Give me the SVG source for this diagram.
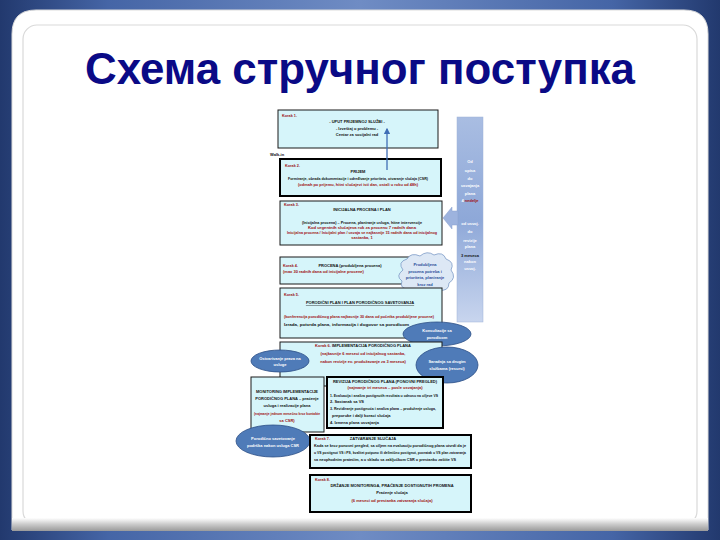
<svg xmlns="http://www.w3.org/2000/svg" width="720" height="540" viewBox="0 0 720 540">
<defs>
<linearGradient id="bg" x1="0" y1="0" x2="1" y2="0">
<stop offset="0" stop-color="#22396e"/><stop offset="0.15" stop-color="#4565a6"/><stop offset="0.5" stop-color="#6f8cc4"/><stop offset="0.85" stop-color="#4565a6"/><stop offset="1" stop-color="#22396e"/>
</linearGradient>
<linearGradient id="band" x1="0" y1="0" x2="0" y2="1">
<stop offset="0" stop-color="#ffffff"/><stop offset="0.5" stop-color="#c9c9c9"/><stop offset="1" stop-color="#9a9a9a"/>
</linearGradient>
<linearGradient id="bar" x1="0" y1="0" x2="0" y2="1">
<stop offset="0" stop-color="#a9bde2"/><stop offset="0.5" stop-color="#8ea8d8"/><stop offset="1" stop-color="#c8d5ee"/>
</linearGradient>
<marker id="ah" viewBox="0 0 10 10" refX="8" refY="5" markerWidth="5" markerHeight="5" orient="auto">
<path d="M0,0 L10,5 L0,10 z" fill="#3f6db5"/>
</marker>
<style>
.t{font-family:"Liberation Sans",Arial,sans-serif;font-weight:bold;font-size:4px;fill:#111}
.c{text-anchor:middle}
.r{fill:#a01010}
.w{fill:#ffffff}
.b{fill:#2a4f9a}
.k{fill:#9b1414;font-size:3.8px}
.box{fill:#d6f5fa;stroke:#1a1a1a;stroke-width:1}
.thick{fill:#d6f5fa;stroke:#000;stroke-width:2}
.ell{fill:#4f7bb8;stroke:#2c4f86;stroke-width:0.8}
</style>
</defs>
<rect x="0" y="0" width="720" height="540" fill="url(#bg)"/>
<path d="M12,34 Q12,10 36,10 L684,10 Q708,10 708,34 L708,530 L12,530 Z" fill="#ffffff" stroke="#dcdcdc" stroke-width="1"/>
<rect x="23" y="25" width="674" height="500" rx="14" fill="#ffffff" stroke="#d9d9d9" stroke-width="1.2"/>
<rect x="12" y="518" width="696" height="13" fill="url(#band)"/>
<text x="360" y="84" text-anchor="middle" font-family="'Liberation Sans',Arial,sans-serif" font-weight="bold" font-size="44" fill="#0a0a86" textLength="550" lengthAdjust="spacingAndGlyphs">Схема стручног поступка</text>

<g id="bar">
<rect x="457" y="117" width="26" height="205" fill="url(#bar)" stroke="#9fb3d8" stroke-width="0.5"/>
<polygon points="443,218 452,207 452,211 458,211 458,225 452,225 452,229" fill="#9db3de" stroke="#8ba2cf" stroke-width="0.5"/>
<text class="t c w" x="470" y="163" font-size="3.6">Od</text>
<text class="t c w" x="470" y="172" font-size="3.6">upisa</text>
<text class="t c w" x="470" y="180" font-size="3.6">do</text>
<text class="t c w" x="470" y="187" font-size="3.6">usvajanja</text>
<text class="t c w" x="470" y="195" font-size="3.6">plana</text>
<text class="t c" x="470" y="202" font-size="3.6"><tspan class="w">4 </tspan><tspan fill="#a01010">nedelje</tspan></text>
<text class="t c w" x="470" y="225" font-size="3.6">od usvoj.</text>
<text class="t c w" x="470" y="233" font-size="3.6">do</text>
<text class="t c w" x="470" y="242" font-size="3.6">revizije</text>
<text class="t c w" x="470" y="248" font-size="3.6">plana</text>
<text class="t c" x="470" y="257" font-size="3.6" fill="#a01010">3 meseca</text>
<text class="t c w" x="470" y="263" font-size="3.6">nakon</text>
<text class="t c w" x="470" y="270" font-size="3.6">usvoj.</text>
</g>

<g id="box1">
<rect class="box" x="278" y="110" width="160" height="38" stroke="#555"/>
<text class="t k" x="282" y="117">Korak 1.</text>
<text class="t c" x="357" y="123">- UPUT PRIJEMNOJ SLUŽBI -</text>
<text class="t c" x="357" y="130">- Izveštaj o problemu -</text>
<text class="t c" x="357" y="136">Centar za socijalni rad</text>
</g>
<text class="t" x="270" y="156" fill="#9a9a9a" font-weight="normal">Walk-in</text>

<g id="box2">
<rect class="thick" x="280" y="159" width="161" height="37"/>
<text class="t k" x="285" y="167">Korak 2.</text>
<text class="t c" x="358" y="173">PRIJEM</text>
<text class="t c" x="358" y="180" textLength="140" lengthAdjust="spacingAndGlyphs">Formiranje, obrada dokumentacije i određivanje prioriteta, otvaranje slučaja (CSR)</text>
<text class="t c r" x="358" y="186" textLength="120" lengthAdjust="spacingAndGlyphs">(odmah po prijemu, hitni slučajevi isti dan, ostali u roku od 48h)</text>
</g>

<g id="connectors">
<line x1="387" y1="170" x2="387" y2="129" stroke="#3f6db5" stroke-width="1.3" marker-end="url(#ah)"/>
</g>

<g id="box3">
<rect class="box" x="280" y="201" width="162" height="44"/>
<text class="t k" x="284" y="206">Korak 3.</text>
<text class="t c" x="362" y="211">INICIJALNA PROCENA I PLAN</text>
<text class="t c" x="362" y="224" textLength="120" lengthAdjust="spacingAndGlyphs">(Inicijalna procena) – Procena, planiranje usluga, hitne intervencije</text>
<text class="t c r" x="362" y="229" textLength="108" lengthAdjust="spacingAndGlyphs">Kod urgentnih slučajeva rok za procenu 7 radnih dana</text>
<text class="t c r" x="362" y="234" textLength="150" lengthAdjust="spacingAndGlyphs">Inicijalna procena / Inicijalni plan / usvaja se najkasnije 15 radnih dana od inicijalnog</text>
<text class="t c r" x="362" y="239">sastanka, 1</text>
</g>

<g id="box4">
<rect class="box" x="280" y="257" width="162" height="27"/>
<text class="t k" x="283" y="267">Korak 4.</text>
<text class="t c" x="350" y="267">PROCENA (produbljena procena)</text>
<text class="t r" x="283" y="273">(max 30 radnih dana od inicijalne procene)</text>
</g>

<g id="cloud">
<path d="M403,270 Q397,262 407,259 Q411,252 420,256 Q427,250 434,255 Q443,251 446,259 Q455,262 451,270 Q457,278 449,283 Q449,292 438,290 Q432,296 423,291 Q414,296 409,289 Q399,289 402,281 Q395,276 403,270 Z" fill="#dde8f5" stroke="#6f8fc0" stroke-width="0.7"/>
<text class="t c b" x="425" y="266" font-size="3.5">Produbljena</text>
<text class="t c b" x="425" y="273" font-size="3.5">procena potreba i</text>
<text class="t c b" x="425" y="279" font-size="3.5">prioriteta, planiranje</text>
<text class="t c b" x="425" y="286" font-size="3.5">kroz rad</text>
</g>

<g id="box5">
<rect class="box" x="280" y="288" width="162" height="50"/>
<text class="t k" x="284" y="296">Korak 5.</text>
<text class="t c" x="360" y="304" text-decoration="underline">PORODIČNI PLAN I PLAN PORODIČNOG SAVETOVANJA</text>
<text class="t r" x="284" y="318" textLength="150" lengthAdjust="spacingAndGlyphs">(konferencija porodičnog plana najkasnije 30 dana od početka produbljene procene)</text>
<text class="t" x="284" y="326" textLength="125" lengthAdjust="spacingAndGlyphs">Izrada, potvrda plana, informacija i dogovor sa porodicom</text>
</g>

<g id="ellipse-konsultacije">
<ellipse class="ell" cx="437" cy="334" rx="34" ry="12"/>
<text class="t c w" x="437" y="332" font-size="3.5">Konsultacije sa</text>
<text class="t c w" x="437" y="339" font-size="3.5">porodicom</text>
</g>

<g id="box6">
<rect class="box" x="280" y="342" width="162" height="44"/>
<text class="t c" x="363" y="347"><tspan fill="#9b1414">Korak 6. </tspan>IMPLEMENTACIJA PORODIČNOG PLANA</text>
<text class="t c r" x="363" y="355">(najkasnije 6 meseci od inicijalnog sastanka,</text>
<text class="t c r" x="363" y="363">nakon revizije ev. produžavanje za 3 meseca)</text>
</g>

<g id="ellipse-ostvarivanje">
<ellipse class="ell" cx="280" cy="361" rx="29" ry="11"/>
<text class="t c w" x="280" y="360" font-size="3.5">Ostvarivanje prava na</text>
<text class="t c w" x="280" y="366" font-size="3.5">usluge</text>
</g>

<g id="ellipse-saradnja">
<ellipse class="ell" cx="447" cy="365" rx="31" ry="18"/>
<text class="t c w" x="447" y="363" font-size="3.5">Saradnja sa drugim</text>
<text class="t c w" x="447" y="370" font-size="3.5">službama (resursi)</text>
</g>

<g id="box-monitoring">
<rect class="box" x="251" y="377" width="73" height="55"/>
<text class="t c" x="287" y="393" font-size="3.8">MONITORING IMPLEMENTACIJE</text>
<text class="t c" x="287" y="400" font-size="3.8">PORODIČNOG PLANA – praćenje</text>
<text class="t c" x="287" y="407" font-size="3.8">usluga i realizacije plana</text>
<text class="t c r" x="287" y="415" font-size="3.6" textLength="66" lengthAdjust="spacingAndGlyphs">(najmanje jednom mesečno kroz kontakte</text>
<text class="t c r" x="287" y="422" font-size="3.8">sa CSR)</text>
</g>

<g id="box-revizija">
<rect class="thick" x="327" y="377" width="116" height="51"/>
<text class="t c" x="385" y="383" font-size="3.8">REVIZIJA PORODIČNOG PLANA (PONOVNI PREGLED)</text>
<text class="t c r" x="385" y="389" font-size="3.8">(najmanje tri meseca – posle usvajanja)</text>
<text class="t" x="330" y="397" font-size="3.8" textLength="108" lengthAdjust="spacingAndGlyphs">1. Evaluacija i analiza postignutih rezultata u odnosu na ciljeve VS</text>
<text class="t" x="330" y="403" font-size="3.8">2. Sastanak sa VS</text>
<text class="t" x="330" y="410" font-size="3.8" textLength="106" lengthAdjust="spacingAndGlyphs">3. Revidiranje postignuća i analiza plana – produženje usluga,</text>
<text class="t" x="332" y="417" font-size="3.8">preporuke i dalji koraci slučaja</text>
<text class="t" x="330" y="424" font-size="3.8">4. Izmena plana usvajanja</text>
</g>

<g id="ellipse-savetovanje">
<ellipse class="ell" cx="273" cy="441" rx="37" ry="16"/>
<text class="t c w" x="273" y="440" font-size="3.5">Porodično savetovanje</text>
<text class="t c w" x="273" y="447" font-size="3.5">podrška nakon usluga CSR</text>
</g>

<g id="box7">
<rect class="thick" x="310" y="435" width="161" height="33"/>
<text class="t k" x="315" y="440">Korak 7.</text>
<text class="t c" x="373" y="440">ZATVARANJE SLUČAJA</text>
<text class="t" x="314" y="447" textLength="152" lengthAdjust="spacingAndGlyphs">Kada se kroz ponovni pregled, sa ciljem na evaluaciju porodičnog plana utvrdi da je</text>
<text class="t" x="314" y="454" textLength="152" lengthAdjust="spacingAndGlyphs">u VS postignut VS i PS, kvalitet potpuno ili delimično postignut, povratak u VS plan zatvaranja</text>
<text class="t" x="314" y="461" textLength="142" lengthAdjust="spacingAndGlyphs">sa neophodnim pratećim, a u skladu sa zaključkom CSR o prestanku zaštite VS</text>
</g>

<g id="box8">
<rect class="thick" x="310" y="475" width="161" height="37"/>
<text class="t k" x="315" y="481">Korak 8.</text>
<text class="t c" x="392" y="487">DRŽANJE MONITORINGA, PRAĆENJE DOSTIGNUTIH PROMENA</text>
<text class="t c" x="392" y="494">Praćenje slučaja</text>
<text class="t c r" x="392" y="502">(6 meseci od prestanka zatvaranja slučaja)</text>
</g>
</svg>
